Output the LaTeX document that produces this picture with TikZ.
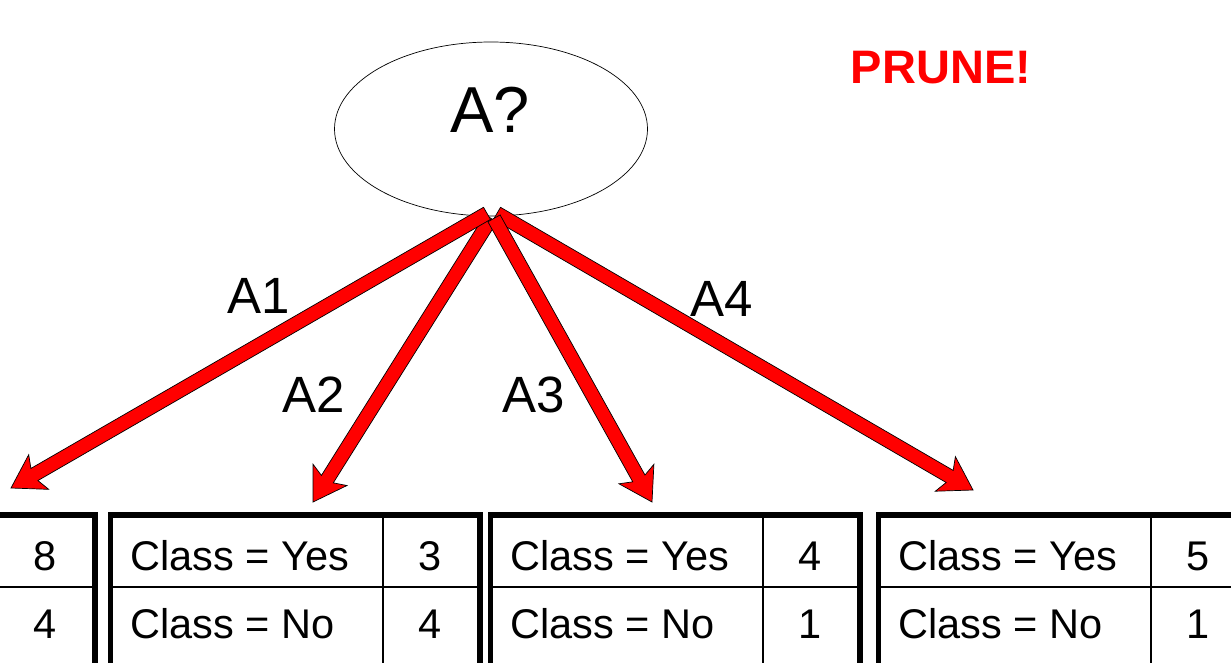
\documentclass[tikz,border=0pt]{standalone}
\usepackage{fontspec}
\setmainfont{Liberation Sans}
\usetikzlibrary{calc, shapes.geometric}
\definecolor{prunered}{RGB}{255,0,0}

% fat outlined arrow from #1 to #2
\newcommand\fatarrow[2]{%
    \coordinate (hb) at ($(#2)!32pt!(#1)$);
    \coordinate (hj) at ($(#2)!27pt!(#1)$);
    \draw[fatarr] ($(#1)!7pt!90:(#2)$) -- ($(hj)!7pt!90:(#2)$) -- ($(hb)!20pt!90:(#2)$) -- (#2)
        -- ($(hb)!20pt!-90:(#2)$) -- ($(hj)!7pt!-90:(#2)$) -- ($(#1)!7pt!-90:(#2)$) -- cycle;
}

\begin{document}
\begin{tikzpicture}[
    x=1pt, y=-1pt,
    cell/.style={font=\fontsize{41.5}{48}\selectfont, inner sep=0pt},
    branch/.style={font=\fontsize{51}{60}\selectfont, inner sep=0pt, anchor=base},
    fatarr/.style={draw=black, line width=0.7pt, fill=prunered, line join=miter},
    outer/.style={line width=5pt},
    grid/.style={line width=1.5pt},
]
    \useasboundingbox (0,0) rectangle (1231,662);
    \clip (0,0) rectangle (1231,662);

    % root test
    \node[ellipse, draw, line width=0.7pt, minimum width=313pt, minimum height=174pt] (q) at (491,129) {};
    \node[font=\fontsize{65}{76}\selectfont, inner sep=0pt, anchor=base] (qtext) at (490,132) {A?};
    \node[font=\bfseries\fontsize{47}{56}\selectfont, text=prunered] (prune) at (941,68) {PRUNE!};

    % branch ends
    \coordinate (s1) at ($(q.south)+(-4,-3)$);
    \coordinate (s2) at ($(q.south)+(0,2)$);
    \coordinate (s3) at ($(q.south)+(3,2)$);
    \coordinate (s4) at ($(q.south)+(6,-3)$);
    \coordinate (t1) at (11,488);
    \coordinate (t2) at (313,502);
    \coordinate (t3) at (652,502);
    \coordinate (t4) at (973,490);

    \fatarrow{s2}{t2}
    \fatarrow{s1}{t1}
    \fatarrow{s4}{t4}
    \fatarrow{s3}{t3}

    \node[branch] (lA1) at (259,313) {A1};
    \node[branch] (lA2) at (314,412) {A2};
    \node[branch] (lA3) at (534,412) {A3};
    \node[branch] (lA4) at (722,316) {A4};

    % leaf tables
    \foreach \x/\ny/\nn [count=\i] in {-273/8/4, 112/3/4, 492/4/1, 880/5/1} {
        \draw[grid] (\x,517) rectangle (\x+366,680);
        \draw[grid] (\x,587) -- (\x+366,587);
        \draw[grid] (\x+271,517) -- (\x+271,680);
        \draw[outer] (\x-2,514.5) rectangle (\x+368,680);
        \node[cell, anchor=base] (ny\i) at (\x+318.5,570) {\ny};
        \node[cell, anchor=base] (nn\i) at (\x+318.5,638) {\nn};
    }
    \foreach \x [count=\i from 2] in {112, 492, 880} {
        \node[cell, anchor=base west] (yes\i) at (\x+18,570) {Class = Yes};
        \node[cell, anchor=base west] (no\i) at (\x+18,638) {Class = No};
    }
\end{tikzpicture}
\end{document}
